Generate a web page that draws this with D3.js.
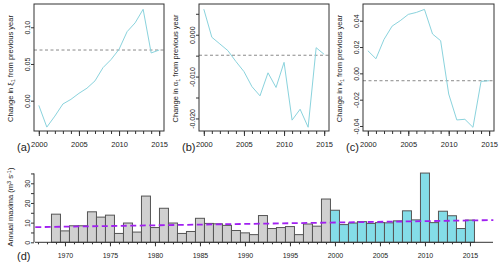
<!DOCTYPE html>
<html>
<head>
<meta charset="utf-8">
<script src="https://cdn.jsdelivr.net/npm/d3@7"></script>
<style>
  body { margin: 0; background: #fff; }
  svg { font-family: "Liberation Sans", Arial, sans-serif; }
  .tick line, .domain { stroke: #333; }
  .tick text { fill: #222; }
</style>
</head>
<body>
<div id="chart"></div>
<script>
// ---- data ----
var changeYears = [2000, 2001, 2002, 2003, 2004, 2005, 2006, 2007, 2008, 2009, 2010, 2011, 2012, 2013, 2014, 2015];
var xiChange = [-0.0064, -0.036, -0.021, -0.0045, 0.0018, 0.010, 0.017, 0.027, 0.045, 0.056, 0.070, 0.094, 0.106, 0.1245, 0.065, 0.069];
var alphaChange = [0.0061, -0.0006, -0.0022, -0.0038, -0.0064, -0.0088, -0.0124, -0.0146, -0.0091, -0.0126, -0.0066, -0.0204, -0.0178, -0.0221, -0.0031, -0.0047];
var kappaChange = [0.0172, 0.0111, 0.0258, 0.0359, 0.0400, 0.0448, 0.0463, 0.0486, 0.0299, 0.0248, -0.0157, -0.0354, -0.0349, -0.0410, -0.0061, -0.0056];
var xiRef = 0.069, alphaRef = -0.0049, kappaRef = -0.0056;

var maxYears = [1969, 1970, 1971, 1972, 1973, 1974, 1975, 1976, 1977, 1978, 1979, 1980, 1981, 1982, 1983, 1984,
  1985, 1986, 1987, 1988, 1989, 1990, 1991, 1992, 1993, 1994, 1995, 1996, 1997, 1998, 1999,
  2000, 2001, 2002, 2003, 2004, 2005, 2006, 2007, 2008, 2009, 2010, 2011, 2012, 2013, 2014, 2015];
var annualMax = [14.3, 5.8, 8.4, 8.4, 15.5, 12.8, 13.8, 4.5, 9.8, 5.2, 23.5, 7.5, 17.3, 9.8, 4.5, 5.5,
  12.2, 9.6, 9.4, 8.6, 6.0, 4.8, 3.9, 13.6, 7.0, 7.5, 8.0, 3.9, 9.3, 8.2, 22.0,
  16.3, 9.0, 9.8, 10.5, 9.6, 10.0, 9.9, 10.9, 16.0, 11.4, 35.2, 10.0, 15.8, 13.5, 7.0, 11.3];
var recentFrom = 2000;
var trendYears = [1966.7, 2017.6];
var trendValues = [7.7, 11.3];

var svgWidth = 500, svgHeight = 266;
var lineColor = "#8ad3dd", barCyan = "#84dde8", barGrey = "#d0d0d0";

var svg = d3.select("#chart").append("svg")
  .attr("width", svgWidth)
  .attr("height", svgHeight);

// rotate y tick labels like R does (las = 0)
function rotateLabels(g, off) {
  g.selectAll(".tick text")
    .attr("transform", "rotate(-90)")
    .attr("x", 0)
    .attr("y", -off)
    .attr("dy", 0)
    .attr("text-anchor", "middle");
}

// ---- top three panels ----
var panels = [
  {left: 34, right: 164, values: xiChange, ref: xiRef, domain: [-0.0413, 0.1317],
   ticks: [0, 0.05, 0.10], labelled: [0, 0.05, 0.10], fmt: ".2f", sym: "ξ", tag: "(a)"},
  {left: 199, right: 329, values: alphaChange, ref: alphaRef, domain: [-0.0230, 0.00734],
   ticks: [-0.020, -0.015, -0.010, -0.005, 0, 0.005], labelled: [-0.020, -0.010, 0], fmt: ".3f", sym: "α", tag: "(b)"},
  {left: 363, right: 494, values: kappaChange, ref: kappaRef, domain: [-0.0438, 0.0527],
   ticks: [-0.04, -0.02, 0, 0.02, 0.04], labelled: [-0.04, -0.02, 0, 0.02, 0.04], fmt: ".2f", sym: "κ", tag: "(c)"}
];
var panelTop = 4, panelBottom = 131;

panels.forEach(function(p) {
  var x = d3.scaleLinear().domain([1999.4, 2015.6]).range([p.left, p.right]);
  var y = d3.scaleLinear().domain(p.domain).range([panelBottom, panelTop]);
  var g = svg.append("g");

  // minor and major ticks along the bottom
  g.append("g")
    .attr("transform", `translate(0, ${panelBottom})`)
    .call(d3.axisBottom(x).tickValues(changeYears).tickSize(3).tickFormat(""))
    .call(a => a.select(".domain").remove());
  g.append("g")
    .attr("transform", `translate(0, ${panelBottom})`)
    .style("font-size", "7.5px")
    .call(d3.axisBottom(x).tickValues([2000, 2005, 2010, 2015]).tickSize(5).tickPadding(6).tickFormat(d3.format("d")))
    .call(a => a.select(".domain").remove());

  var yAxis = g.append("g")
    .attr("transform", `translate(${p.left}, 0)`)
    .style("font-size", "7px")
    .call(d3.axisLeft(y).tickValues(p.ticks).tickSize(3)
      .tickFormat(d => p.labelled.some(v => Math.abs(v - d) < 1e-9) ? d3.format(p.fmt)(d).replace("−", "-") : ""))
    .call(a => a.select(".domain").remove());
  rotateLabels(yAxis, 4);

  // reference line
  g.append("line")
    .attr("x1", p.left).attr("x2", p.right)
    .attr("y1", y(p.ref)).attr("y2", y(p.ref))
    .attr("stroke", "#8a8a8a")
    .attr("stroke-dasharray", "3,2.5");

  g.append("path")
    .datum(p.values)
    .attr("fill", "none")
    .attr("stroke", lineColor)
    .attr("stroke-width", 1)
    .attr("d", d3.line().x((d, i) => x(changeYears[i])).y(d => y(d)));

  g.append("rect")
    .attr("x", p.left).attr("y", panelTop)
    .attr("width", p.right - p.left).attr("height", panelBottom - panelTop)
    .attr("fill", "none").attr("stroke", "#333");

  // axis title
  var t = g.append("text")
    .attr("transform", `translate(${p.left - 21}, ${(panelTop + panelBottom) / 2 + 1}) rotate(-90)`)
    .attr("text-anchor", "middle")
    .style("font-size", "7.5px")
    .attr("fill", "#222");
  t.append("tspan").text("Change in " + p.sym);
  t.append("tspan").attr("dy", 2).style("font-size", "5.5px").text("1");
  t.append("tspan").attr("dy", -2).text(" from previous year");

  svg.append("text")
    .attr("x", p.left - 17).attr("y", 150.5)
    .style("font-size", "11px")
    .attr("fill", "#222")
    .text(p.tag);
});

// ---- bottom bar chart ----
var bx = d3.scaleLinear().domain([1966.67, 2017.56]).range([35, 493]);
var by = d3.scaleLinear().domain([0, 35]).range([242.3, 173.45]);
var barW = bx(1) - bx(0);

var bars = svg.append("g");
bars.selectAll("rect")
  .data(annualMax)
  .enter()
  .append("rect")
  .attr("x", (d, i) => bx(maxYears[i]) - barW / 2)
  .attr("y", d => by(d))
  .attr("width", barW)
  .attr("height", d => by(0) - by(d))
  .attr("fill", (d, i) => maxYears[i] >= recentFrom ? barCyan : barGrey)
  .attr("stroke", "#555")
  .attr("stroke-width", 1);

// x axis: minor ticks every year, major every five
svg.append("g")
  .attr("transform", `translate(0, ${by(0)})`)
  .call(d3.axisBottom(bx).tickValues(maxYears.concat([1967, 1968])).tickSize(2).tickFormat(""))
  .call(a => a.select(".domain").attr("d", `M${bx.range()[0]},0H${bx.range()[1]}`));
svg.append("g")
  .attr("transform", `translate(0, ${by(0)})`)
  .style("font-size", "7px")
  .call(d3.axisBottom(bx).tickValues([1970, 1975, 1980, 1985, 1990, 1995, 2000, 2005, 2010, 2015]).tickSize(4).tickPadding(7).tickFormat(d3.format("d")))
  .call(a => a.select(".domain").remove());

var byAxis = svg.append("g")
  .attr("transform", `translate(34, 0)`)
  .style("font-size", "7px")
  .call(d3.axisLeft(by).tickValues([0, 5, 10, 15, 20, 25, 30, 35]).tickSize(3)
    .tickFormat(d => d % 10 === 0 ? d : ""));
byAxis.select(".domain").attr("d", `M0,${by(0)}V${by(35)}`);
rotateLabels(byAxis, 4);

// trend line
svg.append("path")
  .datum(trendValues)
  .attr("fill", "none")
  .attr("stroke", "#a020f0")
  .attr("stroke-width", 1.8)
  .attr("stroke-dasharray", "6,3.5")
  .attr("d", d3.line().x((d, i) => bx(trendYears[i])).y(d => by(d)));

var yt = svg.append("text")
  .attr("transform", `translate(13, 207) rotate(-90)`)
  .attr("text-anchor", "middle")
  .style("font-size", "7.5px")
  .attr("fill", "#222");
yt.append("tspan").text("Annual maxima (m");
yt.append("tspan").attr("dy", -2.5).style("font-size", "5.5px").text("3");
yt.append("tspan").attr("dy", 2.5).text(" s");
yt.append("tspan").attr("dy", -2.5).style("font-size", "5.5px").text("-1");
yt.append("tspan").attr("dy", 2.5).text(")");

svg.append("text")
  .attr("x", 17).attr("y", 260)
  .style("font-size", "11px")
  .attr("fill", "#222")
  .text("(d)");
</script>
</body>
</html>
